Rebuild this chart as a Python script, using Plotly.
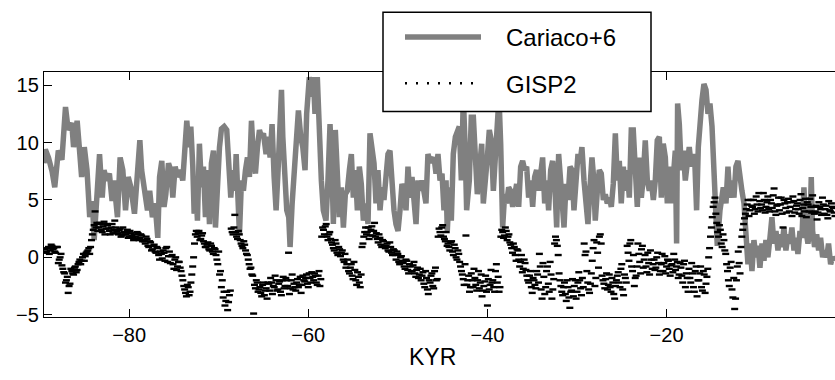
import numpy as np
import plotly.graph_objects as go

# ---------------- data ----------------
cariaco_age = [
    -89.5, -89.35, -89.0, -88.6, -88.3, -87.9, -87.5, -87.1, -86.8, -86.4, -86.2, -85.8, -85.5, -85.3,
    -85.0, -84.7, -84.4, -84.1, -83.9, -83.6, -83.3, -83.0, -82.8, -82.5, -82.2, -81.9, -81.7, -81.3,
    -81.0, -80.7, -80.4, -80.1, -79.8, -79.4, -79.1, -78.8, -78.6, -78.3, -77.95, -77.7, -77.4, -77.1,
    -76.8, -76.6, -76.35, -76.1, -75.9, -75.6, -75.35,
    -75.12, -74.86, -74.60, -74.30, -74.01, -73.75, -73.56, -73.34, -73.11, -72.89, -72.74, -72.52,
    -72.37, -72.15, -71.92, -71.70, -71.48, -71.25, -71.03, -70.81, -70.58, -70.36, -70.14, -69.91,
    -69.69, -69.39, -69.10, -68.87, -68.65, -68.43, -68.20, -68.05, -67.83, -67.68, -67.46, -67.24,
    -67.01, -66.79, -66.57, -66.34, -66.12, -65.90, -65.67, -65.45, -65.23, -65.00, -64.71, -64.48,
    -64.26, -64.04, -63.81, -63.59, -63.37, -63.14, -62.99, -62.84, -62.62, -62.40, -62.18, -62.03,
    -61.80, -61.58, -61.36, -61.10, -60.84, -60.61,
    -60.36, -60.18, -59.88, -59.62, -59.43, -59.25, -58.99, -58.76, -58.54, -58.32, -58.02, -57.80,
    -57.57, -57.35, -57.20, -56.98, -56.75, -56.53, -56.31, -56.08, -55.86, -55.64, -55.41, -55.19,
    -54.97, -54.74, -54.52, -54.30, -54.08, -53.85, -53.55, -53.33, -53.11, -52.88, -52.66, -52.44,
    -52.22, -51.99, -51.77, -51.55, -51.32, -51.10, -50.88, -50.65, -50.43, -50.21, -49.98, -49.76,
    -49.54, -49.31, -49.09, -48.87, -48.64, -48.42, -48.20, -47.97, -47.75, -47.53, -47.30, -47.08,
    -46.86, -46.64, -46.41,
    -46.19, -45.96, -45.74, -45.52, -45.29, -45.07, -44.85, -44.62, -44.48, -44.25, -44.03, -43.81,
    -43.58, -43.36, -43.14, -42.91, -42.69, -42.50, -42.32, -42.02, -41.80, -41.57, -41.35, -41.13,
    -40.90, -40.64, -40.46, -40.23, -40.01, -39.79, -39.57, -39.34, -39.12, -38.90, -38.71, -38.52,
    -38.30, -38.08, -37.85, -37.63, -37.41, -37.18, -36.96, -36.74, -36.51, -36.29, -36.07, -35.84,
    -35.62, -35.40, -35.17, -34.95, -34.73, -34.51, -34.28, -34.06, -33.84, -33.61, -33.39, -33.17,
    -32.94, -32.72, -32.50, -32.27, -32.05, -31.83,
    -31.68, -31.45, -31.23, -31.01, -30.78, -30.56, -30.34, -30.11, -29.89, -29.67, -29.45, -29.22,
    -29.00, -28.78, -28.55, -28.33, -28.18, -27.96, -27.73, -27.51, -27.29, -27.06, -26.84, -26.62,
    -26.39, -26.17, -25.95, -25.72, -25.50, -25.28, -25.06, -24.83, -24.61, -24.39, -24.16, -23.94,
    -23.72, -23.49, -23.27, -23.05, -22.82, -22.60, -22.38, -22.15, -21.93, -21.71, -21.48, -21.26,
    -21.04, -20.81, -20.59, -20.37, -20.14, -19.92, -19.70, -19.47, -19.25, -19.03, -18.88, -18.77,
    -18.58, -18.36, -18.14, -17.91, -17.69, -17.47, -17.24, -17.02,
    -16.83, -16.65, -16.46, -16.27, -16.05, -15.83, -15.60, -15.38, -15.16, -14.93, -14.71, -14.56,
    -14.34, -14.04, -13.67, -13.37, -13.15, -12.93, -12.70, -12.48, -12.26, -12.03, -11.81, -11.59,
    -11.36, -11.14, -10.92, -10.69, -10.47, -10.25, -10.02, -9.80, -9.58, -9.35, -9.13, -8.91,
    -8.69, -8.46, -8.24, -8.02, -7.79, -7.57, -7.35, -7.12, -6.90, -6.68, -6.45, -6.23,
    -6.01, -5.78, -5.56, -5.34, -5.11, -4.89, -4.67, -4.44, -4.22, -4.00, -3.85, -3.70,
    -3.48, -3.25, -3.03, -2.81, -2.58, -2.36, -2.13, -1.92, -1.69, -1.47, -1.21,
]
cariaco_val = [
    8.2, 9.4, 8.7, 7.5, 6.1, 9.3, 8.5, 13.1, 11.1, 11.7, 9.6, 11.9, 9.0, 7.0,
    9.6, 7.6, 3.5, 4.9, 1.5, 5.8, 9.0, 5.2, 7.6, 6.7, 7.3, 4.9, 6.7, 3.5,
    8.7, 7.6, 4.1, 7.0, 6.1, 3.8, 6.7, 10.2, 7.6, 5.8, 4.1, 5.8, 3.5, 4.7,
    1.7, 7.0, 8.4, 4.4, 5.5, 8.2, 7.6,
    5.2, 7.9, 7.0, 7.6, 6.7, 9.0, 11.9, 9.6, 11.4, 7.9, 3.8, 5.8,
    3.2, 9.9, 6.1, 7.9, 3.5, 7.6, 2.9, 8.2, 9.3, 2.6, 7.6, 9.6,
    11.2, 11.4, 11.1, 7.6, 5.2, 7.6, 5.8, 9.0, 5.2, 2.0, 6.7, 5.8,
    7.6, 8.7, 7.0, 11.9, 8.7, 7.3, 9.6, 11.1, 10.5, 10.8, 9.0, 10.5,
    8.7, 11.6, 7.0, 4.1, 7.6, 11.9, 14.6, 10.5, 6.7, 4.1, 3.5, 0.9,
    4.7, 7.6, 9.9, 12.8, 10.5, 9.6,
    7.6, 12.5, 15.7, 14.0, 15.7, 12.5, 15.7, 10.5, 6.7, 4.1, 3.2, 6.7,
    11.6, 7.6, 2.9, 11.1, 6.1, 3.5, 6.1, 2.6, 5.5, 5.8, 7.6, 9.0,
    5.2, 7.6, 4.1, 7.9, 6.4, 3.2, 4.7, 2.9, 10.8, 9.0, 8.2, 4.7,
    7.6, 4.1, 6.1, 5.0, 7.0, 9.0, 9.3, 6.1, 4.1, 2.9, 2.3, 4.1,
    6.4, 5.8, 4.1, 7.9, 5.2, 7.0, 4.1, 2.9, 6.7, 5.8, 6.7, 5.2,
    4.7, 9.0, 8.4,
    8.4, 8.7, 7.3, 9.0, 6.7, 7.3, 4.1, 6.7, 2.3, 6.1, 3.2, 9.0,
    10.5, 11.1, 11.4, 6.7, 14.0, 9.9, 4.1, 6.7, 12.2, 12.2, 9.0, 5.5,
    7.6, 9.9, 4.7, 7.6, 8.7, 11.1, 10.2, 5.8, 8.4, 11.1, 14.0, 9.9,
    2.6, 5.5, 4.7, 6.1, 5.8, 4.4, 5.5, 6.4, 4.4, 7.9, 8.4, 7.6,
    7.9, 5.2, 6.7, 4.4, 7.0, 7.6, 5.8, 7.9, 8.7, 4.7, 6.7, 4.1,
    7.6, 8.4, 6.7, 2.6, 9.0, 6.7,
    5.5, 2.6, 6.4, 5.0, 7.9, 7.6, 4.1, 6.7, 9.0, 8.2, 9.6, 6.7,
    4.1, 2.9, 6.1, 8.7, 7.3, 3.2, 5.8, 7.6, 7.3, 5.0, 5.5, 4.7,
    5.2, 4.4, 6.4, 10.8, 6.7, 8.4, 4.7, 7.9, 5.8, 7.6, 5.2, 11.1,
    11.1, 6.4, 4.4, 8.7, 5.2, 7.0, 10.2, 6.7, 5.8, 6.7, 5.0, 6.7,
    10.2, 10.5, 5.2, 9.9, 8.7, 4.7, 7.9, 4.7, 7.6, 9.3, 1.2, 13.4,
    11.6, 7.6, 9.3, 6.7, 8.2, 9.6, 7.9, 9.0,
    7.9, 4.1, 9.6, 11.9, 13.7, 15.1, 14.6, 12.5, 13.4, 11.4, 8.2, 5.2,
    1.0, 4.1, 6.1, 4.7, 7.9, 5.2, 6.7, 5.2, 7.9, 8.4, 6.7, 5.8,
    4.7, 2.6, -0.6, 1.2, -1.2, 1.5, 0.0, 1.0, -0.9, 1.2, -0.3, 1.5,
    0.0, 1.7, 3.5, 1.2, 2.3, 0.6, 2.0, 0.9, 2.6, 0.6, 2.0, 1.2,
    2.6, 0.6, 1.7, 0.3, 2.3, 1.7, 6.1, 2.3, 1.2, 2.6, 7.0, 2.3,
    0.9, 2.0, 0.6, 1.7, 0.0, 0.6, 0.0, 1.2, -0.6, 0.0, -0.3,
]

# GISP2 samples: two interleaved runs (ages every 0.2 kyr, second run offset by 0.1 kyr)
gisp2_first_age = -89.4
gisp2_second_first_age = -89.3
gisp2_age_step = 0.2
gisp2_val = [
    0.7, 0.5, 0.9, 0.6, 1.0,   0.8, 0.4, 0.9, -0.2, 0.3,
    -1.0, -1.4, -2.0, -3.1, -2.3,   -1.2, -1.5, -0.8, -1.1, -0.4,
    -0.6, 0.0, -0.3, 0.4, 0.6,   0.3, 1.5, 2.4, 4.0, 3.0,
    2.6, 2.9, 2.2, 3.1, 2.5,   2.8, 2.3, 2.6, 2.1, 3.2,
    2.3, 2.0, 2.5, 1.9, 2.2,   2.0, 2.4, 1.8, 2.1, 1.7,
    2.0, 1.6, 2.1, 1.7, 1.9,   1.5, 1.2, 1.6, 0.9, 1.3,
    0.7, 1.1, 0.4, 0.8, -0.2,   0.3, 0.6, -0.3, 0.9, 0.1,
    -0.5, 0.2, -1.0, 0.0, -0.8,   -0.4, -1.2, -2.0, -2.8, -3.4,
    -2.6, -3.0, -1.5, 0.0, 2.0,   1.8, 2.3, 1.6, 2.1, 1.2,
    0.9, 1.3, 0.6, 1.0, 0.3,   0.7, -0.2, 0.5, -1.2, -2.0,
    -3.0, -3.8, -4.6, -3.3, 2.5,   2.0, 3.7, 1.8, 2.3, 1.5,
    1.0, 1.4, 0.6, 0.2, -0.6,   -0.9, -1.6, -2.4, -2.0, -3.0,
    -2.6, -3.4, -2.2, -2.9, -3.6,   -2.3, -1.8, -3.2, -2.6, -2.0,
    -2.8, -2.1, -3.3, -1.7, -2.5,   -2.0, 0.4, -2.7, -1.5, -2.3,
    -2.9, -1.9, -2.4, -3.1, -1.6,   -2.1, -1.5, -2.6, -1.8, -1.3,
    -2.0, -1.6, -2.4, -1.2, -1.9,   2.6, 2.0, 2.9, 1.5, 2.2,
    1.3, 0.8, 1.5, 0.4, 0.9,   0.1, 0.6, -0.4, -0.9, -0.2,
    -1.4, -0.6, -1.9, -1.1, -2.4,   -1.7, -2.6, 0.9, 1.8, 2.6,
    2.2, 1.6, 2.4, 1.9, 3.0,   2.1, 1.3, 1.7, 0.9, 1.4,
    0.8, 1.2, 0.5, 0.9, 0.2,   0.6, -0.2, 0.3, -0.6, 0.1,
    -0.5, -1.0, -0.3, -1.4, -0.8,   -1.2, -0.4, -1.7, -0.9, -1.5,
    -2.0, -1.3, -2.6, -1.8, -3.2,   -2.2, -1.4, -2.7, -0.9, -1.9,
    2.5, 1.9, 2.8, 1.6, 2.2,   1.2, 0.6, 1.4, 0.2, 0.8,
    -0.2, 0.3, -0.8, -1.5, -2.4,   1.9, -2.0, -3.0, -1.4, -2.6,
    -1.8, -2.9, -1.2, -2.2, -3.4,   -2.5, -1.6, -4.2, -2.8, -1.1,
    -2.0, -3.0, -0.6, -1.7, -2.6,   2.4, 1.7, 2.6, 1.5, 2.0,
    1.1, 0.4, 0.9, -0.3, 0.6,   -0.8, 0.2, -1.0, -0.5, -1.6,
    -2.2, -1.2, -3.1, -2.0, -2.7,   -1.5, 0.3, -2.8, -0.5, -3.2,
    -1.2, -2.3, -0.4, -3.6, -1.9,   1.8, 1.0, -1.4, -2.5, -3.3,
    -2.2, -3.8, -2.6, -4.4, -2.9,   -3.4, -2.0, -3.0, -1.3, -2.7,
    -1.8, 1.2, 0.5, -2.2, -3.1,   -1.4, 0.8, -2.5, 1.3, -0.9,
    2.0, -1.6, -2.3, -1.9, -2.8,   -1.5, -3.0, -2.2, -3.6, -2.0,
    -1.3, -2.6, -0.6, -3.3, -1.8,   1.0, -0.3, 1.5, -1.2, -2.5,
    -1.6, 1.2, -0.4, 0.7, -0.9,   0.2, -1.3, -0.5, 0.6, -1.0,
    -0.2, -0.9, 0.4, -1.5, -0.6,   -1.2, 0.1, -0.8, -0.3, -1.6,
    -0.6, 0.3, -1.1, -0.4, -1.5,   -0.9, -2.2, -0.3, -1.4, -3.0,
    -1.8, -0.5, -2.6, -1.2, -3.4,   -2.0, -0.8, -2.9, -1.5, -2.3,
    -1.0, 0.8, 2.6, 4.4, 5.2,   3.0, 1.8, 2.4, 0.9, 1.5,
    0.3, -1.2, -2.5, -0.4, -3.5,   -4.5, -2.0, 0.5, -1.4, 1.8,
    2.9, 3.8, 4.6, 3.6, 5.0,   4.4, 3.8, 5.3, 4.0, 4.9,
    4.6, 5.6, 3.9, 4.8, 4.2,   5.0, 4.3, 6.0, 3.7, 4.6,
    4.1, 5.2, 2.6, 4.7, 3.9,   5.1, 4.4, 3.6, 4.9, 4.2,
    4.7, 3.8, 5.5, 4.3, 4.0,   3.5, 4.6, 5.1, 3.9, 4.4,
    4.0, 3.3, 4.8, 4.2, 5.2,   3.8, 4.5, 3.4, 4.1, 4.7,
    4.3, 3.6,
]
gisp2_val_b = [
    0.4, 0.8, 0.3, 1.1, 0.7,   0.5, 0.9, -0.5, 0.0, -0.7,
    -1.3, -2.2, -1.7, -2.5, -1.0,   -1.4, -0.9, -1.3, -0.6, -0.2,
    -0.3, 0.3, 0.1, 0.5, 0.8,   0.9, 2.0, 2.8, 2.6, 2.3,
    3.0, 2.4, 2.7, 2.0, 2.9,   2.5, 2.0, 2.9, 2.4, 2.6,
    2.1, 2.4, 1.8, 2.6, 2.0,   2.2, 1.7, 2.3, 1.9, 1.5,
    1.8, 2.2, 1.5, 2.0, 1.4,   1.4, 1.8, 1.0, 1.4, 0.6,
    1.0, 0.5, 0.9, 0.2, 0.5,   -0.1, 0.4, 0.8, -0.4, 0.5,
    0.1, -0.6, -0.2, -1.1, -0.4,   -0.9, -1.6, -2.5, -3.1, -2.4,
    -3.3, -2.2, -0.8, 1.2, 2.3,   2.1, 1.5, 1.9, 1.4, 0.9,
    1.1, 0.7, 1.2, 0.5, 0.8,   0.2, -0.6, -1.5, -2.6, -3.5,
    -4.2, -3.0, -3.9, -2.9, 2.2,   2.6, 2.2, 1.6, 2.0, 1.2,
    0.8, 1.1, 0.3, -0.2, -1.0,   -1.5, -4.9, -2.7, -2.2, -2.8,
    -3.1, -2.4, -3.3, -2.7, -2.2,   -2.9, -2.2, -2.5, -1.6, -2.9,
    -2.3, -3.0, -2.0, -2.7, -1.8,   -2.5, -3.2, -2.0, -2.8, -2.6,
    -2.2, -2.6, -1.7, -2.4, -2.0,   -1.8, -2.3, -1.4, -2.2, -1.7,
    -1.4, -2.2, -1.6, -2.5, 1.8,   2.4, 2.7, 1.8, 2.0, 1.6,
    1.1, 0.6, 1.2, 0.2, 0.7,   0.4, -0.2, 0.3, -0.6, -1.2,
    -0.9, -1.6, -0.4, -2.0, -1.3,   -2.2, -1.5, 1.2, 2.2, 2.0,
    2.6, 1.9, 2.7, 2.3, 1.8,   1.6, 2.0, 1.1, 1.5, 1.0,
    1.0, 0.6, 1.3, 0.4, 0.7,   0.2, 0.5, -0.4, 0.0, -0.3,
    -0.8, -0.2, -1.1, -0.6, -1.2,   -0.7, -1.4, -1.1, -1.8, -1.0,
    -1.6, -2.3, -1.2, -2.8, -2.0,   -1.6, -2.5, -1.2, -2.0, 1.8,
    2.2, 2.6, 1.8, 1.4, 1.0,   0.9, 1.3, 0.5, 1.1, 0.0,
    0.6, -0.4, -1.2, -1.9, -0.6,   -2.4, -1.6, -2.6, -2.0, -1.0,
    -2.4, -2.0, -2.7, -1.5, -2.9,   -2.1, -3.0, -1.9, -2.4, -2.2,
    -2.6, -1.2, -2.2, -3.0, 1.8,   2.2, 1.9, 2.3, 1.8, 1.3,
    0.8, 1.2, 0.2, 0.7, -0.2,   -0.4, -1.3, -0.2, -1.1, -2.0,
    -1.6, -2.6, -1.8, -2.4, -1.2,   -2.2, -0.8, -3.6, -1.7, -2.6,
    -0.8, -3.0, -1.5, -2.8, 1.2,   1.5, 0.2, -2.0, -3.0, -2.6,
    -3.2, -2.0, -3.5, -3.0, -1.9,   -2.5, -3.6, -2.2, -2.0, -3.3,
    -2.6, 0.2, -1.2, -2.8, -2.3,   -0.3, 1.5, -1.8, 0.4, 1.8,
    1.2, -2.0, -2.7, -1.4, -2.4,   -2.6, -1.8, -3.2, -2.5, -1.6,
    -2.2, -1.0, -2.8, -1.5, -2.2,   0.4, 1.2, -0.8, 0.2, -1.8,
    -0.8, 0.3, -1.4, 1.0, -0.2,   -0.8, 0.4, -1.5, -0.2, -0.6,
    -1.1, 0.0, -0.5, -1.2, 0.3,   -0.5, -1.4, -0.2, -1.0, -0.7,
    -1.3, -0.2, -0.8, -1.8, -0.5,   -1.6, -0.6, -2.6, -1.8, -1.0,
    -2.2, -1.4, -3.0, -0.8, -2.0,   -1.4, -2.6, -1.2, -3.1, -1.7,
    0.0, 1.8, 3.5, 4.8, 3.8,   2.2, 2.8, 1.2, 2.0, 0.6,
    -0.6, -2.0, -0.9, -2.8, -1.8,   -3.6, -0.8, -0.5, 0.9, 2.4,
    3.4, 4.2, 5.0, 4.1, 4.5,   5.0, 4.2, 4.6, 5.6, 4.3,
    4.1, 5.0, 4.4, 5.3, 4.0,   4.7, 5.4, 4.0, 4.5, 5.2,
    4.6, 3.8, 5.0, 4.3, 4.8,   4.0, 4.8, 5.3, 3.9, 4.5,
    4.2, 5.0, 3.6, 4.6, 5.1,   4.8, 4.0, 4.4, 5.4, 3.8,
    4.5, 3.9, 4.4, 3.7, 4.6,   4.2, 3.7, 4.9, 4.0, 4.4,
    3.9,
]

x_tick_vals = [-80, -60, -40, -20]
y_tick_vals = [-5, 0, 5, 10, 15]
series_names = ["Cariaco+6", "GISP2"]
x_label = "KYR"

# ---------------- build GISP2 sample table ----------------
age_a = gisp2_first_age + gisp2_age_step * np.arange(len(gisp2_val))
age_b = gisp2_second_first_age + gisp2_age_step * np.arange(len(gisp2_val_b))
gisp2_age = np.concatenate([age_a, age_b])
gisp2_all = np.concatenate([np.array(gisp2_val, float), np.array(gisp2_val_b, float)])
order = np.argsort(gisp2_age, kind="stable")
gisp2_age = np.round(gisp2_age[order], 2)
gisp2_all = gisp2_all[order]

# ---------------- figure ----------------
FONT = "Liberation Sans, Arial, Helvetica, sans-serif"
W, H = 835, 380
L, R, T, B = 44, 0, 72, 63
pw, ph = W - L - R, H - T - B

def px_x(p):  # pixel -> paper x
    return (p - L) / pw

def px_y(p):  # pixel -> paper y
    return (H - B - p) / ph

NBSP = "\u00a0"

fig = go.Figure()
fig.add_trace(go.Scatter(
    x=cariaco_age, y=cariaco_val, mode="lines", name=NBSP * 3 + series_names[0],
    legendgroup="g1", line=dict(color="#808080", width=5.5),
))
fig.add_trace(go.Scatter(
    x=gisp2_age, y=gisp2_all, mode="markers", name=series_names[1],
    legendgroup="g2", showlegend=False,
    marker=dict(symbol="line-ew", size=5, color="black",
                line=dict(color="black", width=2.4)),
))
fig.add_trace(go.Scatter(
    x=[None], y=[None], mode="lines", name=NBSP * 3 + series_names[1], legendgroup="g2",
    line=dict(color="black", width=2.5, dash="2px,9px"),
))

axis_common = dict(
    showgrid=False, zeroline=False, showline=True, linecolor="black", linewidth=1.3,
    ticks="inside", ticklen=8, tickwidth=1.2, tickcolor="black",
    tickfont=dict(family=FONT, size=20, color="black"),
)
fig.update_xaxes(range=[-89.5, -1.2], tickvals=x_tick_vals, mirror="allticks", **axis_common)
fig.update_yaxes(range=[-5.2, 16.15], tickvals=y_tick_vals, mirror=False, **axis_common)

fig.add_shape(type="rect", xref="paper", yref="paper",
              x0=px_x(383), x1=px_x(651), y0=px_y(111.5), y1=px_y(12.3),
              fillcolor="white", line=dict(color="black", width=1.5), layer="above")

fig.add_annotation(text=x_label, xref="paper", yref="paper", x=px_x(432), y=px_y(357),
                   showarrow=False, xanchor="center", yanchor="middle",
                   font=dict(family=FONT, size=23, color="black"))

fig.update_layout(
    width=W, height=H, margin=dict(l=L, r=R, t=T, b=B, pad=0),
    paper_bgcolor="white", plot_bgcolor="white",
    showlegend=True,
    legend=dict(x=px_x(400), y=px_y(15), xanchor="left", yanchor="top",
                bgcolor="rgba(0,0,0,0)", borderwidth=0,
                font=dict(family=FONT, size=24, color="black"),
                tracegroupgap=12, itemwidth=76, traceorder="grouped"),
)

fig.write_html("out.html")
